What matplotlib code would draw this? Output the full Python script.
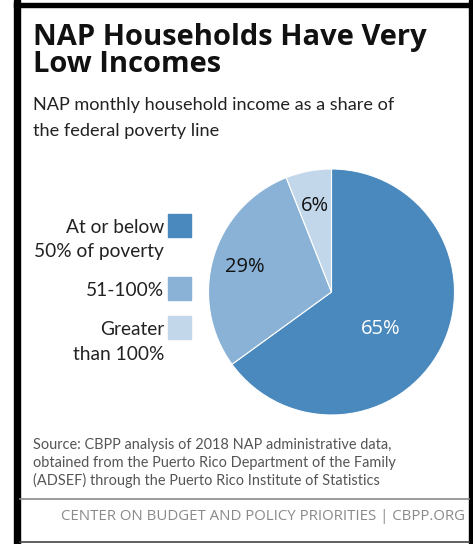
import matplotlib
matplotlib.use("Agg")
import matplotlib.pyplot as plt
from matplotlib.patches import Rectangle
import numpy as np

W, H = 473, 544

categories = ["At or below\n50% of poverty", "51-100%", "Greater\nthan 100%"]
shares = [65, 29, 6]
colors = ["#4a89bd", "#89b2d6", "#c2d7ea"]
pct_colors = ["white", "#111111", "#111111"]

title = "NAP Households Have Very\nLow Incomes"
subtitle = "NAP monthly household income as a share of\nthe federal poverty line"
source = ("Source: CBPP analysis of 2018 NAP administrative data,\n"
          "obtained from the Puerto Rico Department of the Family\n"
          "(ADSEF) through the Puerto Rico Institute of Statistics")
footer = "CENTER ON BUDGET AND POLICY PRIORITIES | CBPP.ORG"


def fx(x):
    return x / W


def fy(y):
    return 1 - y / H


fig = plt.figure(figsize=(W / 100, H / 100), dpi=100)
fig.patch.set_facecolor("white")
renderer = fig.canvas.get_renderer()


def fit_size(text, width):
    # scale font so the text spans `width` pixels, like the reference
    w = text.get_window_extent(renderer).width
    return text.get_fontsize() * width / w


# frame
fig.patches.append(Rectangle((fx(14), fy(544)), fx(6), 1, transform=fig.transFigure, color="black"))
fig.patches.append(Rectangle((fx(14), fy(7)), fx(459), fy(3) - fy(7), transform=fig.transFigure, color="black"))
fig.patches.append(Rectangle((fx(469), fy(544)), fx(4), 1, transform=fig.transFigure, color="black"))
fig.add_artist(plt.Line2D([fx(20), fx(469)], [fy(541.5), fy(541.5)], transform=fig.transFigure,
                          color="#444444", lw=1.2))

# title: one text object, tight leading
t = fig.text(fx(33), fy(72), title, fontsize=20, fontweight="bold", family="Open Sans",
             color="#111111", va="baseline", linespacing=0.92)
t.set_fontsize(fit_size(t, 394))

sub_lines = subtitle.split("\n")
probe = fig.text(0, 0, sub_lines[0], fontsize=14, family="Lato")
sub_size = fit_size(probe, 364)
probe.remove()
for i, line in enumerate(sub_lines):
    fig.text(fx(33), fy(110 + 26 * i), line, fontsize=sub_size, family="Lato",
             color="#222222", va="baseline")

# pie
cx, cy, r = 331.5, 292, 123
ax = fig.add_axes([fx(cx - r), fy(cy + r), fx(2 * r), (2 * r) / H])
wedges, _ = ax.pie(shares, colors=colors, startangle=90, counterclock=False,
                   wedgeprops=dict(linewidth=0.8, edgecolor="white"))
ax.set_xlim(-1, 1)
ax.set_ylim(-1, 1)
ax.axis("off")

label_r = [0.50, 0.73, 0.71]
label_shift = [-10, 0, 0]
for w, v, c, d, s in zip(wedges, shares, pct_colors, label_r, label_shift):
    ang = np.deg2rad((w.theta1 + w.theta2) / 2 + s)
    ax.text(d * np.cos(ang), d * np.sin(ang), f"{v}%", ha="center", va="center",
            fontsize=14.5, family="Open Sans", color=c)

# legend
probe = fig.text(0, 0, "50% of poverty", fontsize=14, family="Lato")
leg_size = fit_size(probe, 131)
probe.remove()
box_tops = [214, 277, 316]
text_base = [233, 296.5, 335]
for cat, col, bt, tb in zip(categories, colors, box_tops, text_base):
    fig.patches.append(Rectangle((fx(168), fy(bt + 23)), fx(23), 23 / H,
                                 transform=fig.transFigure, color=col))
    for j, line in enumerate(cat.split("\n")):
        fig.text(fx(164), fy(tb + 24.5 * j), line, ha="right", va="baseline",
                 fontsize=leg_size, family="Lato", color="#222222")

# source + footer
src_lines = source.split("\n")
probe = fig.text(0, 0, src_lines[1], fontsize=10.5, family="Lato")
src_size = fit_size(probe, 365)
probe.remove()
for i, line in enumerate(src_lines):
    fig.text(fx(33), fy(449.5 + 17.5 * i), line, fontsize=src_size, family="Lato",
             color="#555555", va="baseline")
fig.add_artist(plt.Line2D([fx(20), fx(469)], [fy(498.5), fy(498.5)], transform=fig.transFigure,
                          color="#8a8a8a", lw=1.2))
ft = fig.text(fx(465), fy(520), footer, ha="right", va="baseline", fontsize=10,
              family="Open Sans", color="#8a8a8a")
ft.set_fontsize(fit_size(ft, 403))

fig.savefig("out.png", dpi=100)
